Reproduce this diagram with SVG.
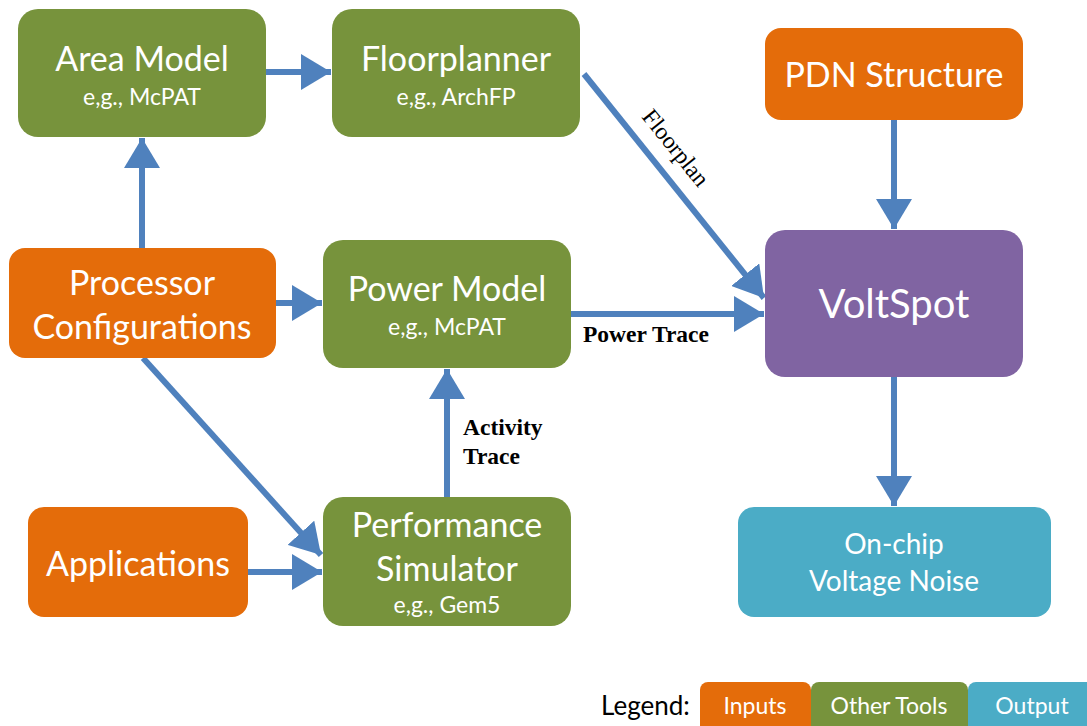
<svg xmlns="http://www.w3.org/2000/svg" width="1087" height="726" viewBox="0 0 1087 726">
<style>
.g{fill:#77933C}.o{fill:#E46C0A}.p{fill:#8064A2}.t{fill:#4BACC6}
.tt{font-family:Lato,"Open Sans","Liberation Sans",sans-serif;fill:#fff;text-anchor:middle}
.big{font-size:34px}.sm{font-size:23px}
.c{stroke:#4F81BD;stroke-width:6;fill:none;marker-end:url(#ah)}
.lb{font-family:"Liberation Serif","DejaVu Serif",serif;font-size:23.5px;fill:#000;font-weight:bold}
</style>
<defs>
<marker id="ah" markerUnits="userSpaceOnUse" markerWidth="32" markerHeight="36" refX="30" refY="18" orient="auto">
<path d="M0,0 L30,18 L0,36 Z" fill="#4F81BD"/>
</marker>
</defs>
<rect width="1087" height="726" fill="#fff"/>
<g id="connectors">
<line class="c" x1="266" y1="72" x2="331" y2="72"/>
<line class="c" x1="142" y1="248" x2="142" y2="138"/>
<line class="c" x1="276" y1="303" x2="322" y2="303"/>
<line class="c" x1="584" y1="74" x2="764" y2="298"/>
<line class="c" x1="571" y1="314" x2="764" y2="314"/>
<line class="c" x1="894" y1="120" x2="894" y2="229"/>
<line class="c" x1="894" y1="377" x2="894" y2="506"/>
<line class="c" x1="143" y1="358" x2="321" y2="555"/>
<line class="c" x1="248" y1="572" x2="322" y2="572"/>
<line class="c" x1="447" y1="497" x2="447" y2="369"/>
<text class="lb" style="font-weight:normal" transform="translate(641,117) rotate(51.2)">Floorplan</text>
<text class="lb" x="583" y="342">Power Trace</text>
<text class="lb" x="463" y="435">Activity</text>
<text class="lb" x="463" y="464">Trace</text>
</g>
<g id="area"><rect class="g" x="18" y="9" width="248" height="128" rx="20"/>
<text class="tt big" x="142" y="71">Area Model</text><text class="tt sm" x="142" y="105">e,g., McPAT</text></g>
<g id="floorplanner"><rect class="g" x="332" y="9" width="248" height="128" rx="20"/>
<text class="tt big" x="456" y="71">Floorplanner</text><text class="tt sm" x="456" y="105">e,g., ArchFP</text></g>
<g id="pdn"><rect class="o" x="765" y="28" width="258" height="92" rx="16"/>
<text class="tt big" x="894" y="87">PDN Structure</text></g>
<g id="proc"><rect class="o" x="9" y="248" width="267" height="110" rx="16"/>
<text class="tt big" x="142" y="295">Processor</text><text class="tt big" x="142" y="339">Configurations</text></g>
<g id="power"><rect class="g" x="323" y="240" width="248" height="128" rx="20"/>
<text class="tt big" x="447" y="301">Power Model</text><text class="tt sm" x="447" y="335">e,g., McPAT</text></g>
<g id="voltspot"><rect class="p" x="765" y="230" width="258" height="147" rx="20"/>
<text class="tt" style="font-size:40px" x="894" y="318">VoltSpot</text></g>
<g id="apps"><rect class="o" x="28" y="507" width="220" height="110" rx="16"/>
<text class="tt big" x="138" y="576">Applications</text></g>
<g id="perf"><rect class="g" x="323" y="497" width="248" height="129" rx="20"/>
<text class="tt big" x="447" y="537">Performance</text><text class="tt big" x="447" y="581">Simulator</text><text class="tt sm" x="447" y="613">e,g., Gem5</text></g>
<g id="noise"><rect class="t" x="738" y="507" width="313" height="110" rx="16"/>
<text class="tt" style="font-size:28px" x="894" y="554">On-chip</text><text class="tt" style="font-size:28px" x="894" y="591">Voltage Noise</text></g>
<g id="legend">
<text x="601" y="715" style="font-family:Lato,'Open Sans','Liberation Sans',sans-serif;font-size:26px;fill:#000">Legend:</text>
<rect class="o" x="700" y="682" width="111" height="60" rx="8"/><text class="tt sm" x="755" y="714">Inputs</text>
<rect class="g" x="811" y="682" width="157" height="60" rx="8"/><text class="tt sm" x="889" y="714">Other Tools</text>
<rect class="t" x="968" y="682" width="130" height="60" rx="8"/><text class="tt sm" x="1032" y="714">Output</text>
</g>
</svg>
